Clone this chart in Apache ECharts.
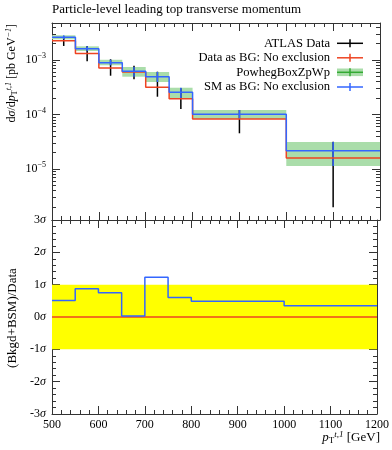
<!DOCTYPE html>
<html><head><meta charset="utf-8">
<script src="https://cdn.jsdelivr.net/npm/echarts@6/dist/echarts.min.js"></script>
<style>html,body{margin:0;padding:0;background:#fff}#c{width:392px;height:450px}</style>
</head><body><div id="c"></div>
<script>
// ---- data ----
const binEdges = [500, 550, 600, 650, 700, 750, 800, 1000, 1200];
const xTicks = [500, 600, 700, 800, 900, 1000, 1100, 1200];
const atlasData = [2.26e-3, 1.31e-3, 7.13e-4, 6.03e-4, 3.15e-4, 1.95e-4, 8.26e-5, 1.59e-5];
const atlasDataLo = [1.81e-3, 9.46e-4, 5.15e-4, 4.43e-4, 2.12e-4, 1.26e-4, 4.52e-5, 1.98e-6];
const atlasDataHi = [2.71e-3, 1.81e-3, 1.03e-3, 7.86e-4, 6.10e-4, 3.03e-4, 1.21e-4, 3.17e-5];
const dataAsBG = [2.26e-3, 1.31e-3, 7.13e-4, 6.03e-4, 3.15e-4, 1.95e-4, 8.26e-5, 1.59e-5];
const smAsBG = [2.61e-3, 1.61e-3, 8.92e-4, 6.21e-4, 4.94e-4, 2.55e-4, 1.01e-4, 2.17e-5];
const powhegLo = [2.40e-3, 1.46e-3, 8.00e-4, 4.94e-4, 3.95e-4, 1.95e-4, 8.26e-5, 1.14e-5];
const powhegHi = [2.84e-3, 1.78e-3, 1.01e-3, 7.44e-4, 6.03e-4, 3.10e-4, 1.21e-4, 3.13e-5];
const ratioDataBG = [0, 0, 0, 0, 0, 0, 0, 0];
const ratioSM = [0.51, 0.87, 0.75, 0.03, 1.23, 0.60, 0.49, 0.35];
const sigmaBand = [-1, 1];
const yDecades = [-5, -4, -3];
const sigmaTicks = [-3, -2, -1, 0, 1, 2, 3];
const legendNames = ['ATLAS Data', 'Data as BG: No exclusion', 'PowhegBoxZpWp', 'SM as BG: No exclusion'];

// ---- helpers ----
const L = Math.log10;
const FONT = 'Liberation Serif';
const RED = '#EE4422', BLUE = '#3366FF', BLACK = '#000', GBAND = '#AADDAA', GLINE = '#33AA33';
const AX = '#333';
const n = binEdges.length - 1;
const centers = binEdges.slice(0, n).map((e, i) => (e + binEdges[i + 1]) / 2);
const stepData = (vals, f) => binEdges.map((e, i) => [e, f(vals[Math.min(i, n - 1)])]);
const minorLog = [];
for (let d = -6; d <= -3; d++) for (let k = 2; k <= 9; k++) minorLog.push(d + L(k));

const YMIN = -5.936, YMAX = -2.321;

function bandRender(color) {
  return function (params, api) {
    const p1 = api.coord([api.value(0), api.value(3)]);
    const p2 = api.coord([api.value(1), api.value(2)]);
    return { type: 'rect', shape: { x: p1[0], y: p1[1], width: p2[0] - p1[0], height: p2[1] - p1[1] }, style: { fill: color } };
  };
}
function errRender(color) {
  return function (params, api) {
    const a = api.coord([api.value(0), api.value(1)]);
    const b = api.coord([api.value(0), api.value(2)]);
    return { type: 'line', shape: { x1: a[0], y1: a[1], x2: b[0], y2: b[1] }, style: { stroke: color, lineWidth: 1.5 } };
  };
}

const xBase = (grid, pos, labels) => ({
  type: 'value', gridIndex: grid, position: pos, min: 500, max: 1200, interval: 100,
  axisLine: { show: true, onZero: false, lineStyle: { color: AX, width: 1 } },
  axisTick: { show: true, inside: true, length: 8, lineStyle: { color: AX } },
  minorTick: { show: true, splitNumber: 5, length: 4, lineStyle: { color: AX } },
  axisLabel: { show: labels, customValues: xTicks, margin: 5, color: '#000', fontFamily: FONT, fontSize: 12, formatter: v => String(v) },
  splitLine: { show: false }, minorSplitLine: { show: false }
});
const yLog = (pos, major) => ({
  type: 'value', gridIndex: 0, position: pos, min: YMIN, max: YMAX,
  axisLine: { show: major, onZero: false, lineStyle: { color: AX, width: 1 } },
  axisTick: { show: true, inside: true, length: major ? 8 : 4, customValues: major ? yDecades : minorLog, lineStyle: { color: AX } },
  axisLabel: {
    show: major && pos === 'left', customValues: yDecades, margin: 6, fontFamily: FONT, fontSize: 12, color: '#000',
    formatter: v => '10{s|−' + Math.round(-v) + '}',
    rich: { s: { fontFamily: FONT, fontSize: 8, verticalAlign: 'top', padding: [0, 0, 8, 0] } }
  },
  splitLine: { show: false }
});
const ySig = (pos) => ({
  type: 'value', gridIndex: 1, position: pos, min: -3, max: 3, interval: 1,
  axisLine: { show: true, onZero: false, lineStyle: { color: AX, width: 1 } },
  axisTick: { show: true, inside: true, length: 8, lineStyle: { color: AX } },
  minorTick: { show: true, splitNumber: 5, length: 4, lineStyle: { color: AX } },
  axisLabel: {
    show: pos === 'left', customValues: sigmaTicks, margin: 6, fontFamily: FONT, fontSize: 12, color: '#000',
    formatter: v => v + '{s|σ}',
    rich: { s: { fontFamily: FONT, fontSize: 12, fontStyle: 'italic' } }
  },
  splitLine: { show: false }, minorSplitLine: { show: false }
});

const chart = echarts.init(document.getElementById('c'), null, { renderer: 'canvas' });

const legendRows = [43.3, 57.8, 72.3, 87.0];
const legendGraphics = [];
const iconX1 = 337, iconX2 = 363, iconXm = 350, textR = 330;
const legendColors = [BLACK, RED, GLINE, BLUE];
legendNames.forEach((name, i) => {
  const y = legendRows[i];
  legendGraphics.push({ type: 'text', x: textR, y: y, style: { text: name, fontFamily: FONT, fontSize: 12.6, fill: '#000', align: 'right', verticalAlign: 'middle' } });
  if (i === 2) legendGraphics.push({ type: 'rect', shape: { x: iconX1, y: y - 3.8, width: iconX2 - iconX1, height: 7.6 }, style: { fill: GBAND } });
  legendGraphics.push({ type: 'line', shape: { x1: iconX1, y1: y, x2: iconX2, y2: y }, style: { stroke: legendColors[i], lineWidth: 1.5 } });
  legendGraphics.push({ type: 'line', shape: { x1: iconXm, y1: y - 4, x2: iconXm, y2: y + 4 }, style: { stroke: legendColors[i], lineWidth: 1.5 } });
});

const option = {
  animation: false,
  backgroundColor: '#fff',
  grid: [
    { left: 52, right: 12, top: 23, height: 197 },
    { left: 52, right: 12, top: 220, height: 194 }
  ],
  xAxis: [xBase(0, 'bottom', false), xBase(0, 'top', false), xBase(1, 'bottom', true), xBase(1, 'top', false)],
  yAxis: [yLog('left', true), yLog('left', false), yLog('right', true), yLog('right', false), ySig('left'), ySig('right')],
  series: [
    { type: 'custom', xAxisIndex: 0, yAxisIndex: 0, renderItem: bandRender(GBAND), encode: { x: [0, 1], y: [2, 3] },
      data: powhegLo.map((v, i) => [binEdges[i], binEdges[i + 1], L(v), L(powhegHi[i])]) },
    { type: 'line', xAxisIndex: 0, yAxisIndex: 0, step: 'end', symbol: 'none', lineStyle: { color: RED, width: 1.5 },
      data: stepData(dataAsBG, L) },
    { type: 'custom', xAxisIndex: 0, yAxisIndex: 0, renderItem: errRender(BLACK), encode: { x: 0, y: [1, 2] },
      data: centers.map((c, i) => [c, L(atlasDataLo[i]), L(atlasDataHi[i])]) },
    { type: 'line', xAxisIndex: 0, yAxisIndex: 0, step: 'end', symbol: 'none', lineStyle: { color: BLUE, width: 1.5 },
      data: stepData(smAsBG, L) },
    { type: 'custom', xAxisIndex: 0, yAxisIndex: 0, renderItem: errRender(BLUE), encode: { x: 0, y: [1, 2] },
      data: centers.map((c, i) => [c, L(powhegLo[i]), L(powhegHi[i])]) },
    { type: 'custom', xAxisIndex: 2, yAxisIndex: 4, renderItem: bandRender('#FFFF00'), encode: { x: [0, 1], y: [2, 3] },
      data: [[binEdges[0], binEdges[n], sigmaBand[0], sigmaBand[1]]] },
    { type: 'line', xAxisIndex: 2, yAxisIndex: 4, step: 'end', symbol: 'none', lineStyle: { color: RED, width: 1.5 },
      data: stepData(ratioDataBG, v => v) },
    { type: 'line', xAxisIndex: 2, yAxisIndex: 4, step: 'end', symbol: 'none', lineStyle: { color: BLUE, width: 1.5 },
      data: stepData(ratioSM, v => v) }
  ],
  graphic: [
    { type: 'text', x: 52, y: 10, style: { text: 'Particle-level leading top transverse momentum', fontFamily: FONT, fontSize: 13, fill: '#000', align: 'left', verticalAlign: 'middle' } },
    { type: 'text', x: 12, y: 24, rotation: Math.PI / 2, style: {
        text: '{n|d}{i|σ}{n|/d}{i|p}{b|T}{p|t,1}{n| [pb GeV}{p|−1}{n|]}',
        align: 'right', verticalAlign: 'middle',
        rich: {
          n: { fontFamily: FONT, fontSize: 12, fill: '#000' },
          i: { fontFamily: FONT, fontSize: 12, fontStyle: 'italic', fill: '#000' },
          b: { fontFamily: FONT, fontSize: 8, fill: '#000', verticalAlign: 'bottom', padding: [6, 0, 0, 0] },
          p: { fontFamily: FONT, fontSize: 8, fontStyle: 'italic', fill: '#000', verticalAlign: 'top', padding: [0, 0, 6, 0] }
        } } },
    { type: 'text', x: 13, y: 318, rotation: Math.PI / 2, style: {
        text: '(Bkgd+BSM)/Data', fontFamily: FONT, fontSize: 13, fill: '#000', align: 'center', verticalAlign: 'middle' } },
    { type: 'text', x: 380, y: 438, style: {
        text: '{i|p}{b|T}{p|t,1}{n| [GeV]}', align: 'right', verticalAlign: 'middle',
        rich: {
          n: { fontFamily: FONT, fontSize: 13, fill: '#000' },
          i: { fontFamily: FONT, fontSize: 13, fontStyle: 'italic', fill: '#000' },
          b: { fontFamily: FONT, fontSize: 9, fill: '#000', verticalAlign: 'bottom', padding: [6, 0, 0, 0] },
          p: { fontFamily: FONT, fontSize: 9, fontStyle: 'italic', fill: '#000', verticalAlign: 'top', padding: [0, 0, 6, 0] }
        } } }
  ].concat(legendGraphics)
};
chart.setOption(option);
</script>
</body></html>
